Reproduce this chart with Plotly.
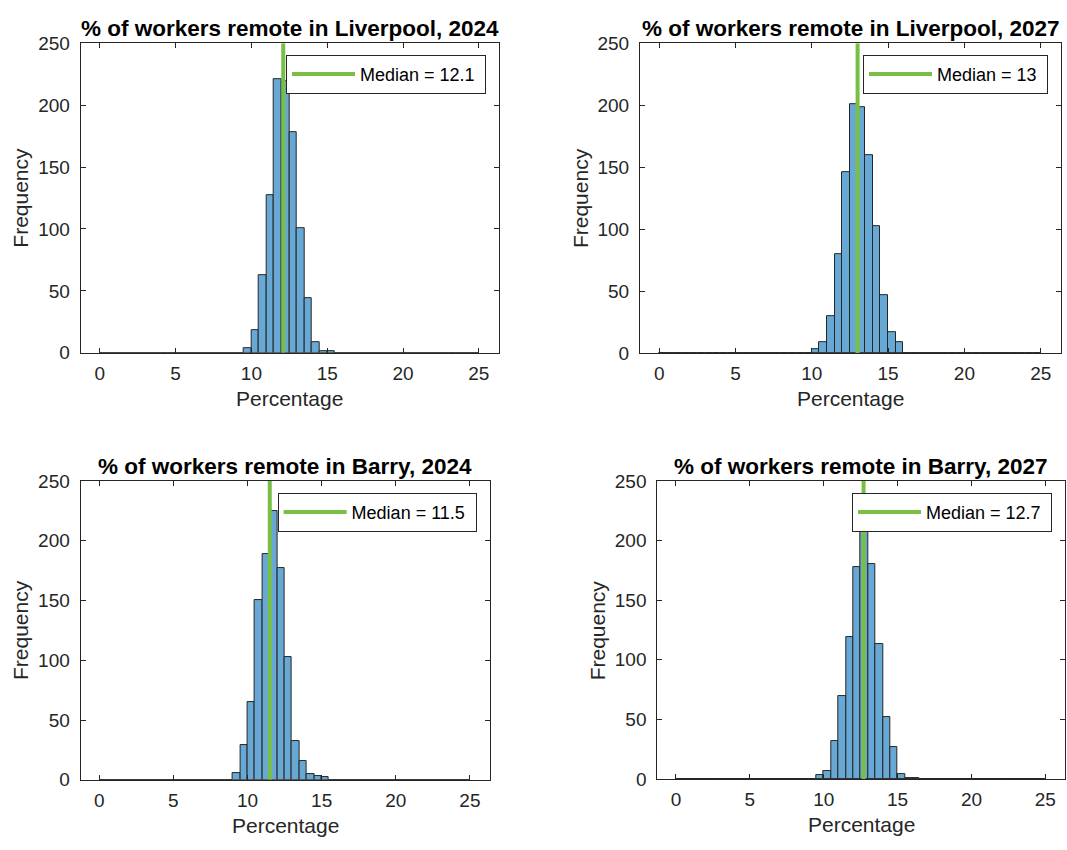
import plotly.graph_objects as go

# ---------------- data ----------------
BIN_WIDTH = 0.5
BIN_START = 0.0
N_BINS = 50  # bin edges 0:0.5:25

panel_titles = [
    "% of workers remote in Liverpool, 2024",
    "% of workers remote in Liverpool, 2027",
    "% of workers remote in Barry, 2024",
    "% of workers remote in Barry, 2027",
]
medians = [12.1, 13.0, 11.5, 12.7]
median_labels = ["12.1", "13", "11.5", "12.7"]

liv2024_first_edge = 9.5
liv2024_counts = [4, 18, 63, 127, 221, 219, 178, 101, 44, 9, 1, 1]
liv2027_first_edge = 10.0
liv2027_counts = [3, 9, 30, 80, 146, 201, 198, 160, 102, 47, 17, 9]
barry2024_first_edge = 9.0
barry2024_counts = [6, 29, 65, 150, 189, 225, 177, 103, 32, 16, 5, 3, 2]
barry2027_first_edge = 9.5
barry2027_counts = [3, 7, 32, 70, 119, 178, 225, 180, 113, 52, 27, 4, 1, 1]

x_ticks = [0, 5, 10, 15, 20, 25]
y_ticks = [0, 50, 100, 150, 200, 250]
x_label = "Percentage"
y_label = "Frequency"

# ---------------- styling ----------------
W, H = 1067, 850
BAR_FILL = "rgb(104,168,213)"
BAR_EDGE = "rgb(38,38,38)"
GREEN = "rgb(121,191,69)"
AX = "rgb(38,38,38)"
FONT = "Liberation Sans, Arial, Helvetica, sans-serif"

boxes = [
    (80.7, 499.0, 34.0, 351.5),
    (640.0, 1061.0, 34.0, 351.7),
    (80.6, 489.6, 483.0, 789.3),
    (657.3, 1065.0, 483.0, 788.5),
]

first_edges = [liv2024_first_edge, liv2027_first_edge, barry2024_first_edge, barry2027_first_edge]
counts_list = [liv2024_counts, liv2027_counts, barry2024_counts, barry2027_counts]


def full_counts(first_edge, counts):
    arr = [0] * N_BINS
    i0 = int(round((first_edge - BIN_START) / BIN_WIDTH))
    for k, c in enumerate(counts):
        arr[i0 + k] = c
    return arr


centers = [BIN_START + BIN_WIDTH * (i + 0.5) for i in range(N_BINS)]

fig = go.Figure()
annotations = []

for p in range(4):
    ax_suffix = "" if p == 0 else str(p + 1)
    xa = "x" + ax_suffix
    ya = "y" + ax_suffix
    leg = "legend" + ax_suffix
    l, r, t, b = boxes[p]

    fig.add_trace(go.Bar(
        x=centers, y=full_counts(first_edges[p], counts_list[p]),
        width=BIN_WIDTH, xaxis=xa, yaxis=ya,
        marker=dict(color=BAR_FILL, line=dict(color=BAR_EDGE, width=1)),
        showlegend=False,
    ))
    fig.add_trace(go.Scatter(
        x=[medians[p], medians[p]], y=[y_ticks[0], y_ticks[-1]],
        mode="lines", xaxis=xa, yaxis=ya,
        line=dict(color=GREEN, width=4),
        name="Median = " + median_labels[p] + "\u00a0",
        legend=leg, showlegend=True,
    ))

    dom_x = [l / W, r / W]
    dom_y = [1 - b / H, 1 - t / H]
    common = dict(
        showline=True, linecolor=AX, linewidth=1, mirror="ticks",
        ticks="inside", ticklen=5, tickcolor=AX, tickwidth=1,
        showgrid=False, zeroline=False,
        tickfont=dict(family=FONT, size=19, color=AX),
    )
    fig.update_layout(**{
        ("xaxis" + ax_suffix): dict(
            domain=dom_x, anchor=ya, range=[-1.26, 26.33],
            tickvals=x_ticks, ticklabelstandoff=3, **common),
        ("yaxis" + ax_suffix): dict(
            domain=dom_y, anchor=xa, range=[0, 250],
            tickvals=y_ticks, ticklabelstandoff=6, **common),
        leg: dict(
            x=(r - 13) / W, y=1 - (t + 12) / H, xanchor="right", yanchor="top",
            bgcolor="white", bordercolor=AX, borderwidth=1,
            font=dict(family=FONT, size=18, color="black"),
            itemwidth=63,
        ),
    })

    annotations.append(dict(
        text="<b>" + panel_titles[p] + "</b>", xref="paper", yref="paper",
        x=(l + r) / 2 / W, y=1 - (t - 15) / H, xanchor="center", yanchor="middle",
        showarrow=False, font=dict(family=FONT, size=22.5, color="black"),
    ))
    annotations.append(dict(
        text=x_label, xref="paper", yref="paper",
        x=(l + r) / 2 / W, y=1 - (b + 47) / H, xanchor="center", yanchor="middle",
        showarrow=False, font=dict(family=FONT, size=21, color=AX),
    ))
    annotations.append(dict(
        text=y_label, xref="paper", yref="paper", textangle=-90,
        x=(l - 60) / W, y=1 - (t + b) / 2 / H, xanchor="center", yanchor="middle",
        showarrow=False, font=dict(family=FONT, size=21, color=AX),
    ))

fig.update_layout(
    width=W, height=H, margin=dict(l=0, r=0, t=0, b=0),
    paper_bgcolor="white", plot_bgcolor="white",
    bargap=0, barmode="overlay",
    annotations=annotations,
    font=dict(family=FONT),
)

fig.write_html("out.html")
